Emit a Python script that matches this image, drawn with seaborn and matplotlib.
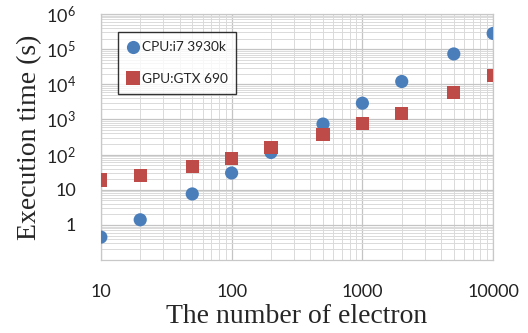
import pandas as pd
import matplotlib.pyplot as plt
import seaborn as sns

# values
electrons = [10, 20, 50, 100, 200, 500, 1000, 2000, 5000, 10000]
cpu_time = [0.45, 1.4, 7.6, 30, 115, 740, 2900, 12000, 73000, 280000]
gpu_time = [19, 26, 46, 79, 156, 380, 760, 1450, 5700, 17700]

cpu_name = 'CPU:i7 3930k'
gpu_name = 'GPU:GTX 690'

x_ticks = [10, 100, 1000, 10000]
x_tick_labels = ['10', '100', '1000', '10000']
y_ticks = [1, 10, 100, 1000, 10000, 100000, 1000000]
y_tick_labels = ['1', '10', '$10^2$', '$10^3$', '$10^4$', '$10^5$', '$10^6$']

df = pd.DataFrame({
    'electrons': electrons + electrons,
    'time': cpu_time + gpu_time,
    'device': [cpu_name] * len(electrons) + [gpu_name] * len(electrons),
})

sns.set_style('white')
plt.rcParams['font.family'] = ['Lato', 'DejaVu Sans']
plt.rcParams['mathtext.default'] = 'regular'

fig = plt.figure(figsize=(5.28, 3.33), dpi=100)
ax = fig.add_axes([0.191, 0.219, 0.743, 0.739])

sns.scatterplot(data=df, x='electrons', y='time', hue='device', style='device',
                palette={cpu_name: '#4A7EBB', gpu_name: '#BE4B48'},
                markers={cpu_name: 'o', gpu_name: 's'},
                s=90, linewidth=0, ax=ax, zorder=3)

ax.set_xscale('log')
ax.set_yscale('log')
ax.set_xlim(10, 10000)
ax.set_ylim(0.1, 1000000)

ax.grid(True, which='major', color='#C4C4C4', linewidth=0.9)
ax.grid(True, which='minor', color='#DADADA', linewidth=0.7)
ax.set_axisbelow(True)
for sp in ax.spines.values():
    sp.set_color('#C8C8C8')
    sp.set_linewidth(0.9)

ax.set_xticks(x_ticks)
ax.set_xticklabels(x_tick_labels)
ax.set_yticks(y_ticks)
ax.set_yticklabels(y_tick_labels)
ax.tick_params(axis='both', which='both', length=0, labelsize=13, colors='#222222')
ax.tick_params(axis='x', pad=17)
ax.tick_params(axis='y', pad=18)

ax.set_xlabel('The number of electron', family=['Liberation Serif'], fontsize=20, labelpad=3)
ax.set_ylabel('Execution time (s)', family=['Liberation Serif'], fontsize=20, labelpad=3)

leg = ax.legend(loc='upper left', bbox_to_anchor=(0.043, 0.925), frameon=True, fancybox=False,
                edgecolor='black', fontsize=9.8, labelspacing=1.45, handletextpad=0.1,
                handlelength=1.0, borderpad=0.65, borderaxespad=0.0, markerscale=1.0)
leg.get_frame().set_linewidth(1.0)

fig.savefig('out.png', dpi=100)
